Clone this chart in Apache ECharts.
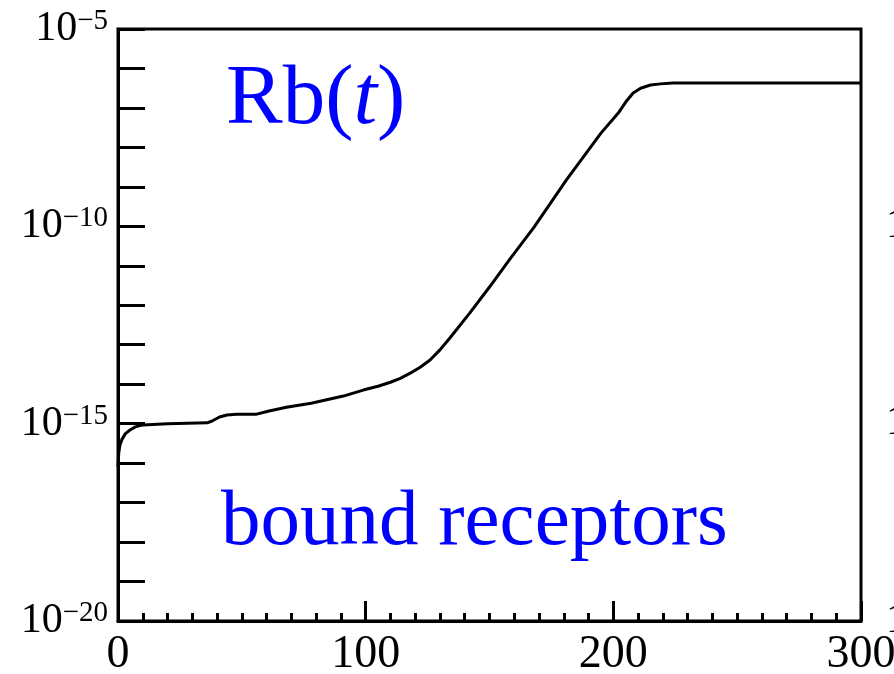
<!DOCTYPE html>
<html>
<head>
<meta charset="utf-8">
<script src="https://cdn.jsdelivr.net/npm/echarts@6/dist/echarts.min.js"></script>
<style>
  html, body { margin: 0; padding: 0; background: #fff; }
  #main { width: 894px; height: 674px; }
</style>
</head>
<body>
<div id="main"></div>
<script>
// time t and bound receptors Rb(t)
var times = [0, 0.3, 0.8, 1.6, 3, 4.85, 7, 10, 20, 36, 38, 41, 44, 48, 56, 61, 68, 78, 91, 99, 105, 110, 114, 118, 122, 126, 130, 134, 142, 150, 158, 168, 181, 195, 202, 205, 208, 211, 215, 219, 224, 300];
var rb = [8e-17, 1.8e-16, 2.9e-16, 4.0e-16, 5.6e-16, 6.9e-16, 8.3e-16, 9.3e-16, 1.0e-15, 1.05e-15, 1.17e-15, 1.48e-15, 1.66e-15, 1.74e-15, 1.74e-15, 2.1e-15, 2.6e-15, 3.3e-15, 5.0e-15, 7.1e-15, 8.9e-15, 1.12e-14, 1.41e-14, 1.9e-14, 2.7e-14, 4.1e-14, 7.4e-14, 1.48e-13, 6.3e-13, 2.9e-12, 1.41e-11, 9.5e-11, 1.48e-9, 2.3e-8, 7.4e-8, 1.41e-7, 2.4e-7, 3.16e-7, 3.8e-7, 4.07e-7, 4.27e-7, 4.27e-7];
var yTicks = [1e-20, 1e-19, 1e-18, 1e-17, 1e-16, 1e-15, 1e-14, 1e-13, 1e-12, 1e-11, 1e-10, 1e-9, 1e-8, 1e-7, 1e-6, 1e-5];
var yLabels = [1e-20, 1e-15, 1e-10, 1e-5];

var chart = echarts.init(document.getElementById('main'));
var serif = 'Liberation Serif';

var options = {
  animation: false,
  grid: {
    left: 118, right: 33, top: 29, bottom: 53,
    outerBoundsMode: 'none',
    show: true,
    borderColor: '#000',
    borderWidth: 3,
    backgroundColor: 'transparent'
  },
  xAxis: {
    type: 'value',
    min: 0,
    max: 300,
    interval: 100,
    axisLine: { lineStyle: { color: '#000', width: 3 } },
    axisTick: { inside: true, length: 20, lineStyle: { color: '#000', width: 3 } },
    minorTick: { show: true, splitNumber: 10, length: 8, lineStyle: { color: '#000', width: 3 } },
    axisLabel: { color: '#000', fontFamily: serif, fontSize: 46, margin: 11 },
    splitLine: { show: false }
  },
  yAxis: {
    type: 'log',
    logBase: 10,
    min: 1e-20,
    max: 1e-5,
    axisLine: { lineStyle: { color: '#000', width: 3 } },
    axisTick: { inside: true, length: 27, customValues: yTicks, lineStyle: { color: '#000', width: 3 } },
    axisLabel: {
      customValues: yLabels,
      margin: 10,
      formatter: function (v) {
        var e = Math.round(Math.log10(v));
        return '{a|10}{b|\u2212' + (-e) + '}';
      },
      rich: {
        a: { fontFamily: serif, fontSize: 42, color: '#000', lineHeight: 44 },
        b: { fontFamily: serif, fontSize: 29, color: '#000', verticalAlign: 'top', lineHeight: 44, padding: [0, 0, 14, 0] }
      }
    },
    splitLine: { show: false }
  },
  graphic: [
    {
      type: 'text', left: 226, top: 58,
      style: { rich: {
        r: { fontFamily: serif, fontSize: 85, fill: '#0000ff' },
        i: { fontFamily: serif, fontSize: 85, fontStyle: 'italic', fill: '#0000ff' }
      }, text: '{r|Rb(}{i|t}{r|)}' }
    },
    {
      type: 'text', left: 221, top: 484,
      style: { text: 'bound receptors', fontFamily: serif, fontSize: 79, fill: '#0000ff' }
    },
    { type: 'text', left: 886, top: 205, style: { text: '10', fontFamily: serif, fontSize: 42, fill: '#000' } },
    { type: 'text', left: 886, top: 402, style: { text: '10', fontFamily: serif, fontSize: 42, fill: '#000' } },
    { type: 'text', left: 886, top: 600, style: { text: '10', fontFamily: serif, fontSize: 42, fill: '#000' } }
  ],
  series: [
    {
      type: 'line',
      data: times.map(function (t, i) { return [t, rb[i]]; }),
      showSymbol: false,
      smooth: false,
      lineStyle: { color: '#000', width: 3 }
    }
  ]
};
chart.setOption(options);
</script>
</body>
</html>
